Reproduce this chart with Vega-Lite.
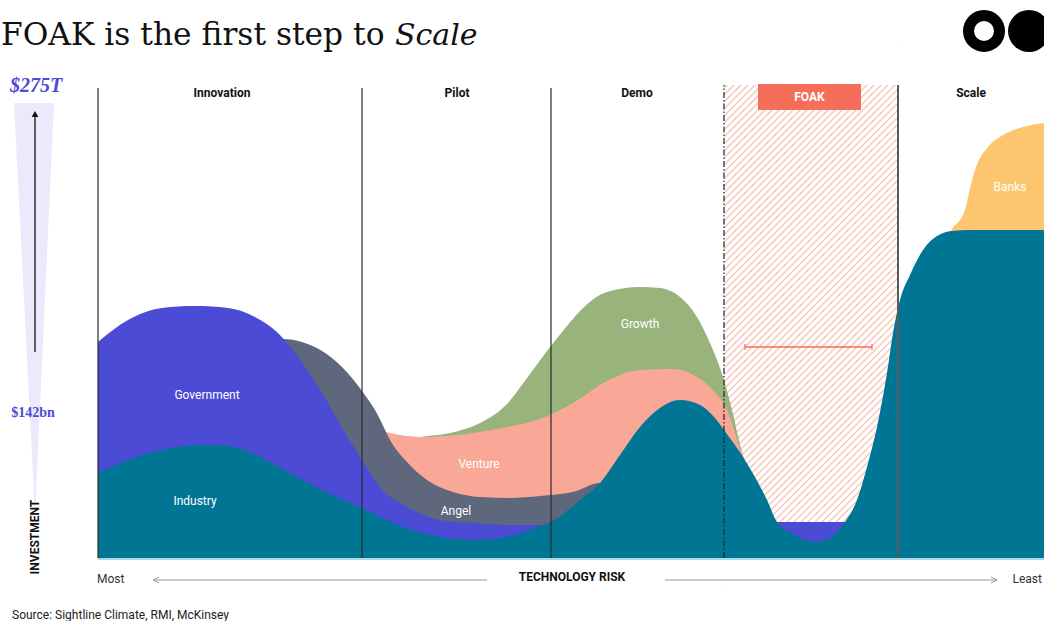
{
  "$schema": "https://vega.github.io/schema/vega-lite/v6.json",
  "width": 1044,
  "height": 621,
  "autosize": {"type": "none"},
  "padding": 0,
  "background": "white",
  "config": {"view": {"stroke": null}, "text": {"font": "Roboto"}},
  "datasets": {
    "wedge": [{"pos": -8.4, "inv": 91, "inv2": 91}, {"pos": -6.3, "inv": 91, "inv2": 8.6}, {"pos": -4.4, "inv": 91, "inv2": 91}],
    "teal": [{"pos":0,"inv":17},{"pos":3,"inv":19.6},{"pos":6.4,"inv":21.6},{"pos":10.4,"inv":22.6},{"pos":13,"inv":22.4},{"pos":16.4,"inv":20},{"pos":19.7,"inv":16.4},{"pos":23,"inv":13},{"pos":26.4,"inv":10},{"pos":30.2,"inv":6.4},{"pos":34.2,"inv":4.2},{"pos":37.5,"inv":3.6},{"pos":40.9,"inv":4.2},{"pos":44.2,"inv":6.4},{"pos":45.3,"inv":7.2},{"pos":48.2,"inv":11.6},{"pos":50.2,"inv":15},{"pos":52.2,"inv":20.6},{"pos":54.2,"inv":26.2},{"pos":56.2,"inv":30},{"pos":58.2,"inv":31.6},{"pos":60.2,"inv":30.6},{"pos":61.7,"inv":28},{"pos":62.6,"inv":25.6},{"pos":64.5,"inv":20.2},{"pos":66.9,"inv":11.6},{"pos":67.9,"inv":7.2},{"pos":69.9,"inv":4.4},{"pos":71.7,"inv":3.2},{"pos":73.5,"inv":4.4},{"pos":74.7,"inv":7.2},{"pos":75.9,"inv":11.6},{"pos":76.9,"inv":18.2},{"pos":77.9,"inv":26.2},{"pos":78.9,"inv":37},{"pos":79.5,"inv":45},{"pos":80.2,"inv":51.6},{"pos":81.2,"inv":56.6},{"pos":82.5,"inv":61.6},{"pos":83.9,"inv":64.4},{"pos":85.4,"inv":65.4},{"pos":87.2,"inv":65.6},{"pos":94.6,"inv":65.6}],
    "blue": [{"pos":0,"inv":43.2},{"pos":3,"inv":47.6},{"pos":6.4,"inv":50},{"pos":9.7,"inv":50.4},{"pos":13,"inv":50},{"pos":15.7,"inv":48.2},{"pos":18,"inv":45},{"pos":19.7,"inv":41},{"pos":21.4,"inv":36.2},{"pos":23,"inv":31},{"pos":24.7,"inv":25},{"pos":26.4,"inv":19.6},{"pos":28.2,"inv":14.2},{"pos":30.9,"inv":10.2},{"pos":34.2,"inv":7.6},{"pos":37.5,"inv":7},{"pos":40.9,"inv":6.6},{"pos":44.2,"inv":6.6},{"pos":46.2,"inv":6.8},{"pos":50.2,"inv":7},{"pos":60.2,"inv":7.2},{"pos":67.7,"inv":7.2},{"pos":75,"inv":7.2},{"pos":76,"inv":2.6},{"pos":77.2,"inv":0}],
    "grey": [{"pos":0,"inv":27.6},{"pos":10.2,"inv":31.6},{"pos":15.2,"inv":39.6},{"pos":17.2,"inv":43},{"pos":18.5,"inv":43.8},{"pos":20.4,"inv":43.2},{"pos":22.4,"inv":41.4},{"pos":24.4,"inv":38.2},{"pos":26.4,"inv":33.4},{"pos":27.7,"inv":29.6},{"pos":29.5,"inv":22.6},{"pos":30.9,"inv":19.2},{"pos":32.9,"inv":15.6},{"pos":35.5,"inv":13.2},{"pos":38.2,"inv":12.2},{"pos":41.2,"inv":12},{"pos":44.2,"inv":12.4},{"pos":47.5,"inv":13.2},{"pos":50.2,"inv":15},{"pos":52.2,"inv":13.6},{"pos":56.2,"inv":0}],
    "salmon": [{"pos":0,"inv":17.6},{"pos":20.2,"inv":19.6},{"pos":26.4,"inv":22.6},{"pos":28.5,"inv":25.2},{"pos":30.2,"inv":24.6},{"pos":32.2,"inv":24.2},{"pos":37.5,"inv":25},{"pos":40.9,"inv":26.2},{"pos":44.2,"inv":27.8},{"pos":47.5,"inv":31},{"pos":50.9,"inv":35.4},{"pos":54.2,"inv":37.6},{"pos":57.5,"inv":37.8},{"pos":59.9,"inv":36.2},{"pos":61.5,"inv":33.6},{"pos":62.9,"inv":29.6},{"pos":64.5,"inv":20},{"pos":66.2,"inv":10.6},{"pos":69.2,"inv":0}],
    "green": [{"pos":0,"inv":15.6},{"pos":28.2,"inv":19.6},{"pos":31.9,"inv":24},{"pos":35.2,"inv":25},{"pos":38.2,"inv":27},{"pos":40.9,"inv":30.8},{"pos":42.9,"inv":36},{"pos":44.9,"inv":41.4},{"pos":46.9,"inv":46.4},{"pos":48.2,"inv":49.4},{"pos":50.9,"inv":53.2},{"pos":54.2,"inv":54.2},{"pos":56.2,"inv":54},{"pos":58.2,"inv":52.2},{"pos":59.9,"inv":48.2},{"pos":61.2,"inv":43},{"pos":62.5,"inv":36.2},{"pos":63.4,"inv":29.6},{"pos":64.4,"inv":21.2},{"pos":65.4,"inv":15.2},{"pos":67.7,"inv":0}],
    "banks": [{"pos":81.2,"inv":0},{"pos":83.2,"inv":59.2},{"pos":85.4,"inv":65.8},{"pos":86.7,"inv":69.6},{"pos":87.2,"inv":74},{"pos":87.8,"inv":78.2},{"pos":89,"inv":82.2},{"pos":90.5,"inv":84.6},{"pos":92.5,"inv":86.2},{"pos":94.6,"inv":87}],
    "hatch": [{"pos":62.6,"pos2":80,"inv":-34.8,"inv2":0},{"pos":62.6,"pos2":80,"inv":-33.4,"inv2":1.4},{"pos":62.6,"pos2":80,"inv":-32,"inv2":2.8},{"pos":62.6,"pos2":80,"inv":-30.6,"inv2":4.2},{"pos":62.6,"pos2":80,"inv":-29.2,"inv2":5.6},{"pos":62.6,"pos2":80,"inv":-27.8,"inv2":7},{"pos":62.6,"pos2":80,"inv":-26.4,"inv2":8.4},{"pos":62.6,"pos2":80,"inv":-25,"inv2":9.8},{"pos":62.6,"pos2":80,"inv":-23.6,"inv2":11.2},{"pos":62.6,"pos2":80,"inv":-22.2,"inv2":12.6},{"pos":62.6,"pos2":80,"inv":-20.8,"inv2":14},{"pos":62.6,"pos2":80,"inv":-19.4,"inv2":15.4},{"pos":62.6,"pos2":80,"inv":-18,"inv2":16.8},{"pos":62.6,"pos2":80,"inv":-16.6,"inv2":18.2},{"pos":62.6,"pos2":80,"inv":-15.2,"inv2":19.6},{"pos":62.6,"pos2":80,"inv":-13.8,"inv2":21},{"pos":62.6,"pos2":80,"inv":-12.4,"inv2":22.4},{"pos":62.6,"pos2":80,"inv":-11,"inv2":23.8},{"pos":62.6,"pos2":80,"inv":-9.6,"inv2":25.2},{"pos":62.6,"pos2":80,"inv":-8.2,"inv2":26.6},{"pos":62.6,"pos2":80,"inv":-6.8,"inv2":28},{"pos":62.6,"pos2":80,"inv":-5.4,"inv2":29.4},{"pos":62.6,"pos2":80,"inv":-4,"inv2":30.8},{"pos":62.6,"pos2":80,"inv":-2.6,"inv2":32.2},{"pos":62.6,"pos2":80,"inv":-1.2,"inv2":33.6},{"pos":62.6,"pos2":80,"inv":0.2,"inv2":35},{"pos":62.6,"pos2":80,"inv":1.6,"inv2":36.4},{"pos":62.6,"pos2":80,"inv":3,"inv2":37.8},{"pos":62.6,"pos2":80,"inv":4.4,"inv2":39.2},{"pos":62.6,"pos2":80,"inv":5.8,"inv2":40.6},{"pos":62.6,"pos2":80,"inv":7.2,"inv2":42},{"pos":62.6,"pos2":80,"inv":8.6,"inv2":43.4},{"pos":62.6,"pos2":80,"inv":10,"inv2":44.8},{"pos":62.6,"pos2":80,"inv":11.4,"inv2":46.2},{"pos":62.6,"pos2":80,"inv":12.8,"inv2":47.6},{"pos":62.6,"pos2":80,"inv":14.2,"inv2":49},{"pos":62.6,"pos2":80,"inv":15.6,"inv2":50.4},{"pos":62.6,"pos2":80,"inv":17,"inv2":51.8},{"pos":62.6,"pos2":80,"inv":18.4,"inv2":53.2},{"pos":62.6,"pos2":80,"inv":19.8,"inv2":54.6},{"pos":62.6,"pos2":80,"inv":21.2,"inv2":56},{"pos":62.6,"pos2":80,"inv":22.6,"inv2":57.4},{"pos":62.6,"pos2":80,"inv":24,"inv2":58.8},{"pos":62.6,"pos2":80,"inv":25.4,"inv2":60.2},{"pos":62.6,"pos2":80,"inv":26.8,"inv2":61.6},{"pos":62.6,"pos2":80,"inv":28.2,"inv2":63},{"pos":62.6,"pos2":80,"inv":29.6,"inv2":64.4},{"pos":62.6,"pos2":80,"inv":31,"inv2":65.8},{"pos":62.6,"pos2":80,"inv":32.4,"inv2":67.2},{"pos":62.6,"pos2":80,"inv":33.8,"inv2":68.6},{"pos":62.6,"pos2":80,"inv":35.2,"inv2":70},{"pos":62.6,"pos2":80,"inv":36.6,"inv2":71.4},{"pos":62.6,"pos2":80,"inv":38,"inv2":72.8},{"pos":62.6,"pos2":80,"inv":39.4,"inv2":74.2},{"pos":62.6,"pos2":80,"inv":40.8,"inv2":75.6},{"pos":62.6,"pos2":80,"inv":42.2,"inv2":77},{"pos":62.6,"pos2":80,"inv":43.6,"inv2":78.4},{"pos":62.6,"pos2":80,"inv":45,"inv2":79.8},{"pos":62.6,"pos2":80,"inv":46.4,"inv2":81.2},{"pos":62.6,"pos2":80,"inv":47.8,"inv2":82.6},{"pos":62.6,"pos2":80,"inv":49.2,"inv2":84},{"pos":62.6,"pos2":80,"inv":50.6,"inv2":85.4},{"pos":62.6,"pos2":80,"inv":52,"inv2":86.8},{"pos":62.6,"pos2":80,"inv":53.4,"inv2":88.2},{"pos":62.6,"pos2":80,"inv":54.8,"inv2":89.6},{"pos":62.6,"pos2":80,"inv":56.2,"inv2":91},{"pos":62.6,"pos2":80,"inv":57.6,"inv2":92.4},{"pos":62.6,"pos2":80,"inv":59,"inv2":93.8},{"pos":62.6,"pos2":80,"inv":60.4,"inv2":95.2},{"pos":62.6,"pos2":80,"inv":61.8,"inv2":96.6},{"pos":62.6,"pos2":80,"inv":63.2,"inv2":98},{"pos":62.6,"pos2":80,"inv":64.6,"inv2":99.4},{"pos":62.6,"pos2":80,"inv":66,"inv2":100.8},{"pos":62.6,"pos2":80,"inv":67.4,"inv2":102.2},{"pos":62.6,"pos2":80,"inv":68.8,"inv2":103.6},{"pos":62.6,"pos2":80,"inv":70.2,"inv2":105},{"pos":62.6,"pos2":80,"inv":71.6,"inv2":106.4},{"pos":62.6,"pos2":80,"inv":73,"inv2":107.8},{"pos":62.6,"pos2":80,"inv":74.4,"inv2":109.2},{"pos":62.6,"pos2":80,"inv":75.8,"inv2":110.6},{"pos":62.6,"pos2":80,"inv":77.2,"inv2":112},{"pos":62.6,"pos2":80,"inv":78.6,"inv2":113.4},{"pos":62.6,"pos2":80,"inv":80,"inv2":114.8},{"pos":62.6,"pos2":80,"inv":81.4,"inv2":116.2},{"pos":62.6,"pos2":80,"inv":82.8,"inv2":117.6},{"pos":62.6,"pos2":80,"inv":84.2,"inv2":119},{"pos":62.6,"pos2":80,"inv":85.6,"inv2":120.4},{"pos":62.6,"pos2":80,"inv":87,"inv2":121.8},{"pos":62.6,"pos2":80,"inv":88.4,"inv2":123.2},{"pos":62.6,"pos2":80,"inv":89.8,"inv2":124.6},{"pos":62.6,"pos2":80,"inv":91.2,"inv2":126},{"pos":62.6,"pos2":80,"inv":92.6,"inv2":127.4},{"pos":62.6,"pos2":80,"inv":94,"inv2":128.8}]
  },
  "encoding": {
    "x": {"field": "pos", "type": "quantitative", "scale": {"domain": [-9.8, 94.6], "nice": false, "zero": false}, "axis": null},
    "y": {"field": "inv", "type": "quantitative", "scale": {"domain": [-12.6, 111.6], "nice": false, "zero": false}, "axis": null}
  },
  "layer": [
    {"data": {"name": "wedge"}, "mark": {"type": "area", "color": "#ebe9fb", "interpolate": "linear"}, "encoding": {"y2": {"field": "inv2"}}},
    {"data": {"values": [{"pos": -6.3, "inv": 41.2, "inv2": 88.4}]}, "mark": {"type": "rule", "color": "#111", "strokeWidth": 1.3}, "encoding": {"y2": {"field": "inv2"}}},
    {"data": {"values": [{"pos": -6.3, "inv": 88.8}]}, "mark": {"type": "point", "shape": "triangle-up", "filled": true, "color": "#111", "size": 45, "opacity": 1}},
    {"data": {"name": "hatch"}, "mark": {"type": "rule", "color": "#f9c2b7", "strokeWidth": 1.3, "clip": true}, "encoding": {"x2": {"field": "pos2"}, "y2": {"field": "inv2"}}},
    {"data": {"values": [{"pos": 62.6, "pos2": 80, "inv": 94.6, "inv2": 111.6}, {"pos": 62.6, "pos2": 80, "inv": 0, "inv2": -12.6}]}, "mark": {"type": "rect", "color": "white"}, "encoding": {"x2": {"field": "pos2"}, "y2": {"field": "inv2"}}},
    {"data": {"name": "banks"}, "mark": {"type": "area", "interpolate": "monotone", "color": "#fdc66e"}, "encoding": {"y2": {"datum": 0}}},
    {"data": {"name": "green"}, "mark": {"type": "area", "interpolate": "monotone", "color": "#98b37b"}, "encoding": {"y2": {"datum": 0}}},
    {"data": {"name": "salmon"}, "mark": {"type": "area", "interpolate": "monotone", "color": "#f9a898"}, "encoding": {"y2": {"datum": 0}}},
    {"data": {"name": "grey"}, "mark": {"type": "area", "interpolate": "monotone", "color": "#5f677c"}, "encoding": {"y2": {"datum": 0}}},
    {"data": {"name": "blue"}, "mark": {"type": "area", "interpolate": "monotone", "color": "#4b4bd6"}, "encoding": {"y2": {"datum": 0}}},
    {"data": {"name": "teal"}, "mark": {"type": "area", "interpolate": "monotone", "color": "#017594"}, "encoding": {"y2": {"datum": 0}}},
    {"data": {"values": [{"pos": 0, "pos2": 94.6, "inv": -0.2}]}, "mark": {"type": "rule", "color": "#a6dbe4", "strokeWidth": 2}, "encoding": {"x2": {"field": "pos2"}}},
    {"data": {"values": [{"pos": 0, "inv": 0, "inv2": 94}, {"pos": 26.4, "inv": 0, "inv2": 94}, {"pos": 45.3, "inv": 0, "inv2": 94}]}, "mark": {"type": "rule", "color": "#2a2a2a", "strokeWidth": 1.2}, "encoding": {"y2": {"field": "inv2"}}},
    {"data": {"values": [{"pos": 62.6, "inv": 0, "inv2": 94.6}]}, "mark": {"type": "rule", "color": "#222", "strokeWidth": 1.2, "strokeDash": [6, 2, 1.5, 2]}, "encoding": {"y2": {"field": "inv2"}}},
    {"data": {"values": [{"pos": 80, "inv": 0, "inv2": 94.6}]}, "mark": {"type": "rule", "color": "#5a5a5a", "strokeWidth": 2}, "encoding": {"y2": {"field": "inv2"}}},
    {"data": {"values": [{"pos": 64.7, "pos2": 77.4, "inv": 42.2}]}, "mark": {"type": "rule", "color": "#f46e5a", "strokeWidth": 1.3}, "encoding": {"x2": {"field": "pos2"}}},
    {"data": {"values": [{"pos": 64.7, "inv": 41.6, "inv2": 42.8}, {"pos": 77.4, "inv": 41.6, "inv2": 42.8}]}, "mark": {"type": "rule", "color": "#f46e5a", "strokeWidth": 1.2}, "encoding": {"y2": {"field": "inv2"}}},
    {"data": {"values": [{"pos": 66, "pos2": 76.3, "inv": 94.8, "inv2": 89.6}]}, "mark": {"type": "rect", "color": "#f46e5a"}, "encoding": {"x2": {"field": "pos2"}, "y2": {"field": "inv2"}}},
    {"data": {"values": [{"pos": 71.15, "inv": 92.2, "label": "FOAK"}]}, "mark": {"type": "text", "color": "white", "fontSize": 12, "fontWeight": "bold", "align": "center", "baseline": "middle"}, "encoding": {"text": {"field": "label"}}},
    {"data": {"values": [{"pos": 12.4, "inv": 93, "label": "Innovation"}, {"pos": 35.9, "inv": 93, "label": "Pilot"}, {"pos": 53.9, "inv": 93, "label": "Demo"}, {"pos": 87.3, "inv": 93, "label": "Scale"}]}, "mark": {"type": "text", "color": "#111", "fontSize": 12, "fontWeight": "bold", "align": "center", "baseline": "middle"}, "encoding": {"text": {"field": "label"}}},
    {"data": {"values": [{"pos": 10.9, "inv": 32.6, "label": "Government"}, {"pos": 9.7, "inv": 11.4, "label": "Industry"}, {"pos": 35.8, "inv": 9.4, "label": "Angel"}, {"pos": 38.1, "inv": 18.8, "label": "Venture"}, {"pos": 54.2, "inv": 46.8, "label": "Growth"}, {"pos": 91.2, "inv": 74.2, "label": "Banks"}]}, "mark": {"type": "text", "color": "white", "fontSize": 12, "align": "center", "baseline": "middle"}, "encoding": {"text": {"field": "label"}}},
    {"data": {"values": [{"pos": -9.7, "inv": 102.6, "label": "FOAK is the first step to"}]}, "mark": {"type": "text", "font": "DejaVu Serif", "fontSize": 31.3, "color": "#111", "align": "left", "baseline": "alphabetic"}, "encoding": {"text": {"field": "label"}}},
    {"data": {"values": [{"pos": 29.7, "inv": 102.6, "label": "Scale"}]}, "mark": {"type": "text", "font": "DejaVu Serif", "fontSize": 30, "fontStyle": "italic", "color": "#111", "align": "left", "baseline": "alphabetic"}, "encoding": {"text": {"field": "label"}}},
    {"data": {"values": [{"pos": -6.2, "inv": 94.4, "label": "$275T"}]}, "mark": {"type": "text", "font": "Liberation Serif", "fontSize": 20, "fontStyle": "italic", "fontWeight": "bold", "color": "#4b4bd6", "align": "center", "baseline": "middle"}, "encoding": {"text": {"field": "label"}}},
    {"data": {"values": [{"pos": -6.5, "inv": 29, "label": "$142bn"}]}, "mark": {"type": "text", "font": "Liberation Serif", "fontSize": 14, "fontWeight": "bold", "color": "#4b4bd6", "align": "center", "baseline": "middle"}, "encoding": {"text": {"field": "label"}}},
    {"data": {"values": [{"pos": -6.3, "inv": 4.2, "label": "INVESTMENT"}]}, "mark": {"type": "text", "fontSize": 12, "fontWeight": "bold", "color": "#111", "angle": 270, "align": "center", "baseline": "middle"}, "encoding": {"text": {"field": "label"}}},
    {"data": {"values": [{"pos": -0.1, "inv": -4.2, "label": "Most"}]}, "mark": {"type": "text", "fontSize": 12, "color": "#333", "align": "left", "baseline": "middle"}, "encoding": {"text": {"field": "label"}}},
    {"data": {"values": [{"pos": 94.4, "inv": -4.2, "label": "Least"}]}, "mark": {"type": "text", "fontSize": 12, "color": "#333", "align": "right", "baseline": "middle"}, "encoding": {"text": {"field": "label"}}},
    {"data": {"values": [{"pos": 47.4, "inv": -3.8, "label": "TECHNOLOGY RISK"}]}, "mark": {"type": "text", "fontSize": 12, "fontWeight": "bold", "color": "#111", "align": "center", "baseline": "middle"}, "encoding": {"text": {"field": "label"}}},
    {"data": {"values": [{"pos": 5.5, "pos2": 38.9, "inv": -4.4}, {"pos": 56.7, "pos2": 89.9, "inv": -4.4}]}, "mark": {"type": "rule", "color": "#999", "strokeWidth": 1}, "encoding": {"x2": {"field": "pos2"}}},
    {"data": {"values": [{"pos": 5.8, "inv": -4.4}]}, "mark": {"type": "point", "shape": "M1,-1L-1,0L1,1", "filled": false, "color": "#999", "size": 36, "strokeWidth": 1, "opacity": 1}},
    {"data": {"values": [{"pos": 89.6, "inv": -4.4}]}, "mark": {"type": "point", "shape": "M-1,-1L1,0L-1,1", "filled": false, "color": "#999", "size": 36, "strokeWidth": 1, "opacity": 1}},
    {"data": {"values": [{"pos": -8.6, "inv": -11.4, "label": "Source: Sightline Climate, RMI, McKinsey"}]}, "mark": {"type": "text", "fontSize": 12, "color": "#222", "align": "left", "baseline": "middle"}, "encoding": {"text": {"field": "label"}}},
    {"data": {"values": [{"pos": 88.6, "inv": 105.4}]}, "mark": {"type": "point", "shape": "circle", "filled": false, "color": "#000", "strokeWidth": 11, "size": 961, "opacity": 1}},
    {"data": {"values": [{"pos": 93.1, "inv": 105.4}]}, "mark": {"type": "point", "shape": "circle", "filled": true, "color": "#000", "size": 1764, "opacity": 1}}
  ]
}
